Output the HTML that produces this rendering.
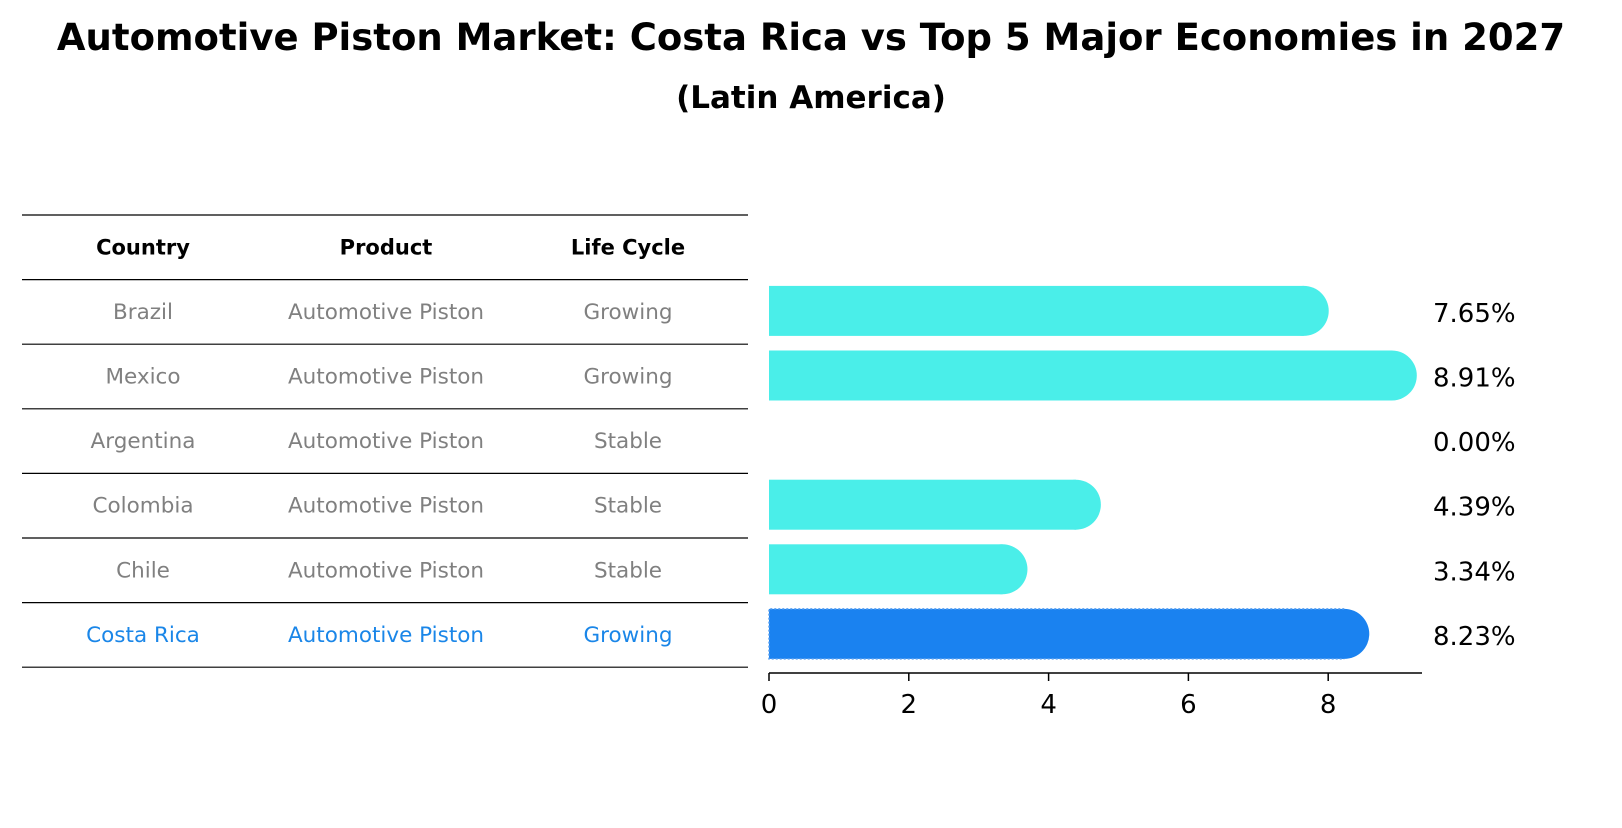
<!DOCTYPE html>
<html><head><meta charset="utf-8"><style>
body{margin:0;background:#fff}
svg text{font-family:"DejaVu Sans","Liberation Sans",sans-serif}
</style></head><body>
<svg id="chart" width="1622" height="823" viewBox="0 0 1622 823" xmlns="http://www.w3.org/2000/svg">
<text x="811" y="50" text-anchor="middle" font-size="37" font-weight="bold">Automotive Piston Market: Costa Rica vs Top 5 Major Economies in 2027</text>
<text x="811" y="108" text-anchor="middle" font-size="31" font-weight="bold">(Latin America)</text>
<g id="table"></g>
<g id="bars"></g>
</svg>
<script>
const countries = ["Brazil","Mexico","Argentina","Colombia","Chile","Costa Rica"];
const products = ["Automotive Piston","Automotive Piston","Automotive Piston","Automotive Piston","Automotive Piston","Automotive Piston"];
const lifeCycles = ["Growing","Growing","Stable","Stable","Stable","Growing"];
const values = [7.65,8.91,0.00,4.39,3.34,8.23];
const ticks = [0,2,4,6,8];
const highlight = "Costa Rica";

const NS="http://www.w3.org/2000/svg";
function mk(tag,attrs,parent){const e=document.createElementNS(NS,tag);for(const k in attrs)e.setAttribute(k,attrs[k]);parent.appendChild(e);return e;}
const table=document.getElementById('table');
const bars=document.getElementById('bars');
const x0=769, pxPer=69.9;
const xs=v=>x0+v*pxPer;
const rowTop=215, rowH=64.6;
const colX=[143,386,628];
const rowY=i=>rowTop+rowH*(i+1)+rowH/2;
for(let i=0;i<=countries.length+1;i++){
  const y=rowTop+rowH*i;
  const l=mk('line',{x1:22,x2:748,y1:y,y2:y,stroke:'#000','stroke-width':1.2},table);
  
  
}
const headers=["Country","Product","Life Cycle"];
headers.forEach((h,j)=>{
  const t=mk('text',{x:colX[j],y:rowTop+rowH/2+7,'text-anchor':'middle','font-size':21,'font-weight':'bold'},table);
  t.textContent=h;
  
  
});
countries.forEach((c,i)=>{
  const col=c===highlight?'#1a86e8':'#808080';
  [c,products[i],lifeCycles[i]].forEach((v,j)=>{
    const t=mk('text',{x:colX[j],y:rowY(i)+7,'text-anchor':'middle','font-size':21.5,fill:col},table);
    t.textContent=v;
    
    
  });
});
const barH=50, r=25;
countries.forEach((c,i)=>{
  const cy=rowY(i)-1, v=values[i];
  const hl=c===highlight;
  const fill=hl?'#1a82f0':'#4aeee9';
  if(v>0){
    const g=mk('g',{},bars);
    
    
    const xe=xs(v);
    mk('rect',{x:x0,y:cy-barH/2,width:Math.max(0,xe-x0),height:barH,fill:fill},g);
    mk('rect',{x:Math.max(x0,xe-r),y:cy-barH/2,width:r+(xe-Math.max(x0,xe-r)),height:barH,rx:r,ry:r,fill:fill},g);
    if(hl) mk('path',{d:`M${xe},${cy-barH/2} H${x0} V${cy+barH/2} H${xe}`,fill:'none',stroke:'#5aa0f0','stroke-width':1.5,'stroke-dasharray':'2,2'},g);
  }
  const t=mk('text',{x:1433,y:cy+11,'font-size':26},bars);
  t.textContent=v.toFixed(2)+'%';
  
  
});
const ax=mk('line',{x1:x0,x2:1422,y1:673,y2:673,stroke:'#000','stroke-width':1.5},bars);


ticks.forEach(tv=>{
  const x=xs(tv);
  const tk=mk('line',{x1:x,x2:x,y1:673,y2:681,stroke:'#000','stroke-width':1.5},bars);
  
  
  const t=mk('text',{x:x,y:713,'text-anchor':'middle','font-size':26},bars);
  t.textContent=tv;
  
  
});
</script>
</body></html>
